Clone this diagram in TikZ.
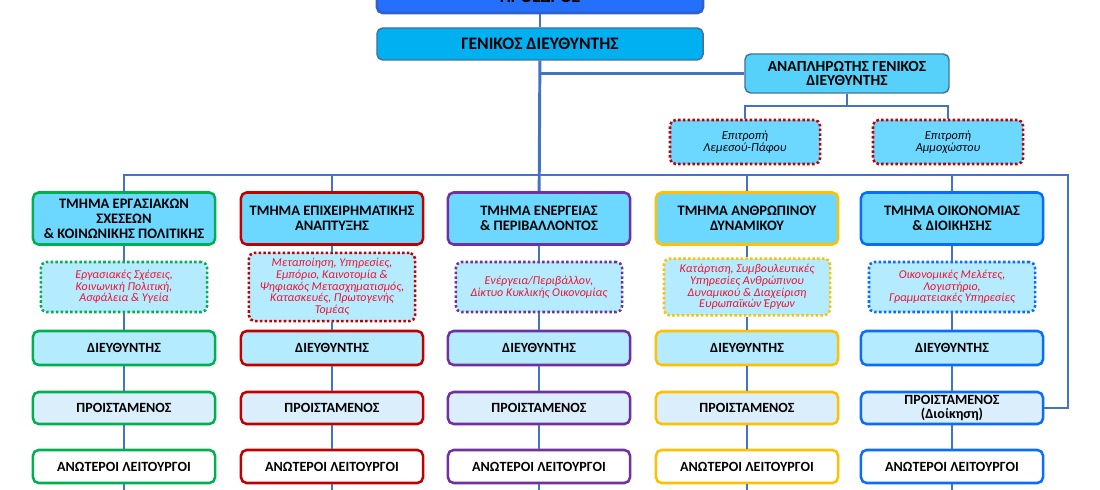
\documentclass[tikz,border=0pt]{standalone}
\usepackage{fontspec}
\setmainfont{Carlito}
\usetikzlibrary{positioning,calc}
\definecolor{linkblue}{HTML}{4472C4}
\definecolor{presfill}{HTML}{2470FA}
\definecolor{presedge}{HTML}{2F5FC8}
\definecolor{genfill}{HTML}{00B0F0}
\definecolor{genedge}{HTML}{41719C}
\definecolor{anafill}{HTML}{56D2FA}
\definecolor{deptfill}{HTML}{6DD8FF}
\definecolor{taskfill}{HTML}{B5EBFF}
\definecolor{headfill}{HTML}{DAEEFB}
\definecolor{tasktext}{HTML}{F0102E}
\definecolor{grn}{HTML}{00B050}
\definecolor{rd}{HTML}{C00000}
\definecolor{prp}{HTML}{7030A0}
\definecolor{ylw}{HTML}{FFC000}
\definecolor{blu}{HTML}{0A6CFF}
\tikzset{
    every node/.style={font=\small},
    box/.style={rectangle,rounded corners=4pt,line width=1.8pt,align=center,inner sep=2pt},
    presbox/.style={box,draw=presedge,fill=presfill,minimum width=8.15cm,minimum height=0.825cm,font=\fontsize{12.5}{13}\selectfont\bfseries},
    genbox/.style={box,line width=1pt,draw=genedge,fill=genfill,minimum width=8.15cm,minimum height=0.8cm,font=\fontsize{12.5}{13}\selectfont\bfseries},
    anabox/.style={box,line width=1pt,draw=genedge,fill=anafill,minimum width=5.1cm,minimum height=0.975cm,font=\fontsize{11}{10}\selectfont\bfseries},
    combox/.style={box,draw=rd,fill=deptfill,dash pattern=on 1.8pt off 1.6pt,minimum width=3.75cm,minimum height=1.1cm,font=\fontsize{8.7}{8.8}\selectfont\itshape},
    deptbox/.style={box,fill=deptfill,minimum width=4.55cm,minimum height=1.3cm,font=\fontsize{10.3}{10.7}\selectfont\bfseries},
    taskbox/.style={box,fill=taskfill,dash pattern=on 1.8pt off 1.6pt,minimum width=4.15cm,minimum height=1.25cm,inner ysep=4pt,text=tasktext,font=\fontsize{8.5}{8.3}\selectfont\itshape},
    dirbox/.style={box,fill=taskfill,minimum width=4.55cm,minimum height=0.85cm,font=\fontsize{10}{10}\selectfont\bfseries},
    headbox/.style={box,fill=headfill,minimum width=4.55cm,minimum height=0.8cm,font=\fontsize{10}{9.8}\selectfont\bfseries},
    senbox/.style={box,fill=white,minimum width=4.55cm,minimum height=0.825cm,font=\fontsize{10}{10}\selectfont\bfseries},
    link/.style={draw=linkblue,line width=2.1pt}
}
\begin{document}
\begin{tikzpicture}[x=0.025cm,y=-0.025cm]
\useasboundingbox (0,0) rectangle (1100,490);
\clip (0,0) rectangle (1100,490);
\node[presbox] (pres) at (540,-3.5) {ΠΡΟΕΔΡΟΣ};
\node[genbox] (gen) at (540,44) {ΓΕΝΙΚΟΣ ΔΙΕΥΘΥΝΤΗΣ};
\node[anabox] (ana) at (847,73.5) {ΑΝΑΠΛΗΡΩΤΗΣ ΓΕΝΙΚΟΣ\\ΔΙΕΥΘΥΝΤΗΣ};
\node[combox] (com1) at (745,142) {Επιτροπή\\Λεμεσού-Πάφου};
\node[combox] (com2) at (948,142) {Επιτροπή\\Αμμοχώστου};
\foreach \i/\x/\c/\dept/\task/\hd in {
    1/124/grn/{ΤΜΗΜΑ ΕΡΓΑΣΙΑΚΩΝ\\ΣΧΕΣΕΩΝ\\\& ΚΟΙΝΩΝΙΚΗΣ ΠΟΛΙΤΙΚΗΣ}/{Εργασιακές Σχέσεις,\\Κοινωνική Πολιτική,\\Ασφάλεια \& Υγεία}/{ΠΡΟΙΣΤΑΜΕΝΟΣ},
    2/332/rd/{ΤΜΗΜΑ ΕΠΙΧΕΙΡΗΜΑΤΙΚΗΣ\\ΑΝΑΠΤΥΞΗΣ}/{Μεταποίηση, Υπηρεσίες,\\Εμπόριο, Καινοτομία \&\\Ψηφιακός Μετασχηματισμός,\\Κατασκευές, Πρωτογενής\\Τομέας}/{ΠΡΟΙΣΤΑΜΕΝΟΣ},
    3/539/prp/{ΤΜΗΜΑ ΕΝΕΡΓΕΙΑΣ\\\& ΠΕΡΙΒΑΛΛΟΝΤΟΣ}/{Ενέργεια/Περιβάλλον,\\Δίκτυο Κυκλικής Οικονομίας}/{ΠΡΟΙΣΤΑΜΕΝΟΣ},
    4/747/ylw/{ΤΜΗΜΑ ΑΝΘΡΩΠΙΝΟΥ\\ΔΥΝΑΜΙΚΟΥ}/{Κατάρτιση, Συμβουλευτικές\\Υπηρεσίες Ανθρώπινου\\Δυναμικού \& Διαχείριση\\Ευρωπαϊκών Έργων}/{ΠΡΟΙΣΤΑΜΕΝΟΣ},
    5/952/blu/{ΤΜΗΜΑ ΟΙΚΟΝΟΜΙΑΣ\\\& ΔΙΟΙΚΗΣΗΣ}/{Οικονομικές Μελέτες,\\Λογιστήριο,\\Γραμματειακές Υπηρεσίες}/{ΠΡΟΙΣΤΑΜΕΝΟΣ\\(Διοίκηση)}}{
    \node[deptbox,draw=\c] (d\i) at (\x,218.5) {\dept};
    \node[taskbox,draw=\c] (t\i) at (\x,287) {\task};
    \node[dirbox,draw=\c] (r\i) at (\x,348) {ΔΙΕΥΘΥΝΤΗΣ};
    \node[headbox,draw=\c] (h\i) at (\x,408) {\hd};
    \node[senbox,draw=\c] (s\i) at (\x,466.5) {ΑΝΩΤΕΡΟΙ ΛΕΙΤΟΥΡΓΟΙ};
    \coordinate (e\i) at (\x,495);
    \draw[link] (d\i) -- (t\i) -- (r\i) -- (h\i) -- (s\i) -- (e\i);
}
\coordinate (busR) at (1068,175);
\coordinate (fork) at (847,106);
\draw[link] (pres) -- (gen);
\draw[link] (gen) -- (d3);
\draw[link] (d1.north) |- (busR) |- (h5.east);
\foreach \i in {2,4,5}
    \draw[link] (d\i.north) -- (d\i.north |- busR);
\draw[link] (ana.west) -- (ana.west -| gen.south);
\draw[link] (ana) -- (fork);
\draw[link] (com1.north) |- (fork) -| (com2.north);
\end{tikzpicture}
\end{document}
